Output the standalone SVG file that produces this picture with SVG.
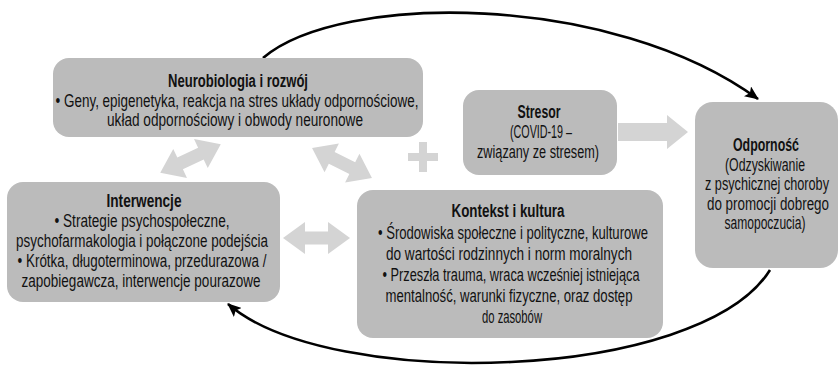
<svg xmlns="http://www.w3.org/2000/svg" width="840" height="372" viewBox="0 0 840 372">
<defs>
<style>
.box{fill:#bbbbbb}
.t{font-family:"Liberation Sans Narrow","Liberation Sans",Arial,sans-serif;font-size:17.5px;fill:#111;text-anchor:middle}
.b{font-weight:bold}
.ga{fill:#d4d4d4}
.curve{fill:none;stroke:#000;stroke-width:2.6}
</style>
<marker id="ah" viewBox="0 0 14 12" refX="13" refY="6" markerWidth="14" markerHeight="12" markerUnits="userSpaceOnUse" orient="auto">
<path d="M0,0 L14,6 L0,12 L3,6 Z" fill="#000"/>
</marker>
<polygon id="dbl" points="-33.5,0 -11.5,-16 -11.5,-6.5 11.5,-6.5 11.5,-16 33.5,0 11.5,16 11.5,6.5 -11.5,6.5 -11.5,16"/>
</defs>

<g id="connectors">
<path class="curve" d="M263,58 C340,-8 612,-8 758,99" marker-end="url(#ah)"/>
<path class="curve" d="M770,270 C700,382 330,392 228,304" marker-end="url(#ah)"/>
<use href="#dbl" class="ga" transform="translate(190.5,158.5) rotate(-25.4)"/>
<use href="#dbl" class="ga" transform="translate(342,163) rotate(26.6)"/>
<use href="#dbl" class="ga" transform="translate(316.5,238)"/>
<polygon class="ga" points="618,123 667,123 667,115 688,132 667,149 667,141 618,141"/>
<g id="plus" class="ga">
<rect x="408" y="153" width="30" height="8"/>
<rect x="419" y="142" width="8" height="30"/>
</g>
</g>

<g id="neurobiologia">
<rect class="box" x="53" y="58" width="370" height="79" rx="16"/>
<text class="t b" x="238" y="87" textLength="140" lengthAdjust="spacingAndGlyphs">Neurobiologia i rozwój</text>
<text class="t" x="237" y="107" textLength="363" lengthAdjust="spacingAndGlyphs">• Geny, epigenetyka, reakcja na stres układy odpornościowe,</text>
<text class="t" x="235" y="126" textLength="256" lengthAdjust="spacingAndGlyphs">układ odpornościowy i obwody neuronowe</text>
</g>

<g id="stresor">
<rect class="box" x="463" y="90" width="154" height="85" rx="16"/>
<text class="t b" x="539" y="118" textLength="43" lengthAdjust="spacingAndGlyphs">Stresor</text>
<text class="t" x="541" y="138" textLength="62" lengthAdjust="spacingAndGlyphs">(COVID-19 –</text>
<text class="t" x="538" y="158" textLength="122" lengthAdjust="spacingAndGlyphs">związany ze stresem)</text>
</g>

<g id="odpornosc">
<rect class="box" x="695" y="102" width="143" height="166" rx="18"/>
<text class="t b" x="766" y="151" textLength="66" lengthAdjust="spacingAndGlyphs">Odporność</text>
<text class="t" x="765" y="171" textLength="80" lengthAdjust="spacingAndGlyphs">(Odzyskiwanie</text>
<text class="t" x="767" y="190" textLength="124" lengthAdjust="spacingAndGlyphs">z psychicznej choroby</text>
<text class="t" x="768" y="210" textLength="122" lengthAdjust="spacingAndGlyphs">do promocji dobrego</text>
<text class="t" x="765" y="229" textLength="81" lengthAdjust="spacingAndGlyphs">samopoczucia)</text>
</g>

<g id="interwencje">
<rect class="box" x="7" y="182" width="273" height="120" rx="16"/>
<text class="t b" x="144" y="207" textLength="75" lengthAdjust="spacingAndGlyphs">Interwencje</text>
<text class="t" x="142" y="227" textLength="175" lengthAdjust="spacingAndGlyphs">• Strategie psychospołeczne,</text>
<text class="t" x="142" y="247" textLength="252" lengthAdjust="spacingAndGlyphs">psychofarmakologia i połączone podejścia</text>
<text class="t" x="142" y="267" textLength="249" lengthAdjust="spacingAndGlyphs">• Krótka, długoterminowa, przedurazowa /</text>
<text class="t" x="141" y="287" textLength="239" lengthAdjust="spacingAndGlyphs">zapobiegawcza, interwencje pourazowe</text>
</g>

<g id="kontekst">
<rect class="box" x="357" y="190" width="306" height="148" rx="16"/>
<text class="t b" x="508" y="217" textLength="113" lengthAdjust="spacingAndGlyphs">Kontekst i kultura</text>
<text class="t" x="513" y="239" textLength="270" lengthAdjust="spacingAndGlyphs">• Środowiska społeczne i polityczne, kulturowe</text>
<text class="t" x="509" y="260" textLength="246" lengthAdjust="spacingAndGlyphs">do wartości rodzinnych i norm moralnych</text>
<text class="t" x="511" y="281" textLength="257" lengthAdjust="spacingAndGlyphs">• Przeszła trauma, wraca wcześniej istniejąca</text>
<text class="t" x="509" y="302" textLength="247" lengthAdjust="spacingAndGlyphs">mentalność, warunki fizyczne, oraz dostęp</text>
<text class="t" x="512" y="323" textLength="60" lengthAdjust="spacingAndGlyphs">do zasobów</text>
</g>
</svg>
